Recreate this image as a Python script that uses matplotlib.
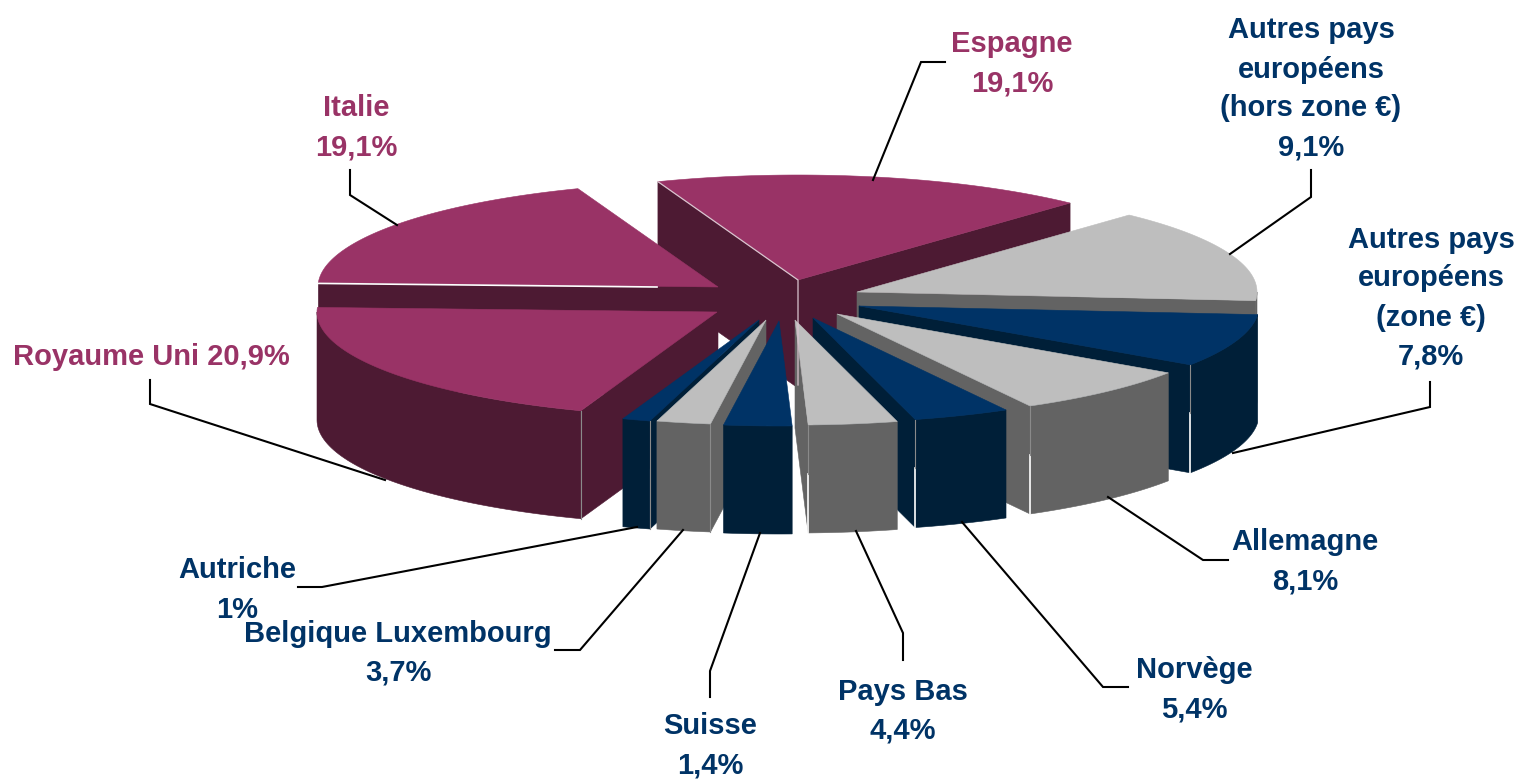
import numpy as np
import matplotlib
matplotlib.use("Agg")
import matplotlib.pyplot as plt
from matplotlib.patches import Polygon

# clockwise from Espagne
names = ["Espagne", "Autres pays\neuropéens\n(hors zone €)", "Autres pays\neuropéens\n(zone €)",
         "Allemagne", "Norvège", "Pays Bas", "Suisse", "Belgique Luxembourg", "Autriche",
         "Royaume Uni", "Italie"]
values = [19.1, 9.1, 7.8, 8.1, 5.4, 4.4, 1.4, 3.7, 1, 20.9, 19.1]
# the slices as drawn do not follow the printed labels exactly, so these are read off the shapes
drawn_shares = [17.6, 14.4, 8.16, 7.52, 3.9, 3.59, 2.74, 2.18, 1.13, 20.17, 18.61]
groups = ["plum", "grey", "navy", "grey", "navy", "grey", "navy", "grey", "navy", "plum", "plum"]

start_angle = -20.5
top_colors = {"plum": "#993366", "grey": "#BEBEBE", "navy": "#003366"}
side_colors = {"plum": "#4D1A33", "grey": "#636363", "navy": "#001F38"}
text_colors = {0: "#993366", 9: "#993366", 10: "#993366"}

# layout in image pixels
apex_x = [798, 857, 859, 837, 813, 795, 779, 766, 759, 717, 718]
apex_y = [280, 292, 306, 314, 318, 320, 321, 320, 320, 312, 287]
rx, ry, depth = 400, 105, 108
draw_order = [0, 10, 1, 9, 2, 3, 4, 5, 8, 7, 6]

label_x = [1012, 1311, 1431, 1305, 1194, 903, 710, 398, 237, 151, 356]
label_y = [64, 89, 298, 562, 690, 711, 746, 653, 590, 357, 128]
leaders = [
    [(945, 62), (921, 62), (873, 180)],
    [(1311, 170), (1311, 197), (1230, 254)],
    [(1430, 382), (1430, 407), (1233, 453)],
    [(1228, 560), (1203, 560), (1108, 497)],
    [(1128, 687), (1103, 687), (962, 522)],
    [(903, 660), (903, 633), (856, 531)],
    [(710, 697), (710, 671), (760, 533)],
    [(555, 650), (580, 650), (683, 530)],
    [(298, 587), (322, 587), (637, 527)],
    [(150, 380), (150, 404), (385, 480)],
    [(350, 170), (350, 195), (397, 225)],
]

plt.rcParams["font.family"] = ["Liberation Sans", "DejaVu Sans"]

fig = plt.figure(figsize=(15.15, 7.8), dpi=100)
ax = fig.add_axes([0, 0, 1, 1])
ax.set_xlim(0, 1515)
ax.set_ylim(780, 0)
ax.axis("off")


def rim(cx, cy, angles):
    t = np.radians(angles)
    return np.column_stack((cx + rx * np.sin(t), cy - ry * np.cos(t)))


def add_face(points, color):
    ax.add_patch(Polygon(points, closed=True, facecolor=color, edgecolor=color, linewidth=0.4))


edges = start_angle + np.cumsum([0] + drawn_shares) * 3.6

for i in draw_order:
    cx, cy = apex_x[i], apex_y[i]
    a0, a1 = edges[i], edges[i + 1]
    top = top_colors[groups[i]]
    side = side_colors[groups[i]]
    drop = np.array([0, depth])
    apex = np.array([[cx, cy]])

    # cut faces, only when they turn towards the viewer
    for ang, visible in ((a0, np.sin(np.radians(a0)) < 0), (a1, np.sin(np.radians(a1)) > 0)):
        if visible:
            p = rim(cx, cy, [ang])
            add_face(np.vstack((apex, p, p + drop, apex + drop)), side)

    # outer wall (front half of the ellipse)
    lo, hi = max(a0, 90), min(a1, 270)
    if hi > lo:
        arc = rim(cx, cy, np.linspace(lo, hi, 60))
        add_face(np.vstack((arc, (arc + drop)[::-1])), side)

    arc = rim(cx, cy, np.linspace(a0, a1, 80))
    add_face(np.vstack((apex, arc)), top)

    # thin light seam between wall and cut face
    if hi > lo and 100 < a1 < 180:
        p = rim(cx, cy, [a1])[0]
        ax.plot([p[0], p[0]], [p[1] + depth * 0.45, p[1] + depth], color="white", lw=1.2)
        ax.plot([p[0], p[0]], [p[1], p[1] + depth * 0.45], color="#8A8A8A", lw=0.8)
    if 180 < a0 < 205:
        p = rim(cx, cy, [a0])[0]
        ax.plot([p[0], p[0]], [p[1], p[1] + depth], color="#8A8A8A", lw=0.8)

# light edges on the plum slices
p = rim(apex_x[0], apex_y[0], [edges[0]])[0]
ax.plot([p[0], apex_x[0], apex_x[0]], [p[1], apex_y[0], apex_y[0] + 105], color="#D8C4CE", lw=0.9)
p = rim(apex_x[10], apex_y[10], [edges[10]])[0]
ax.plot([p[0], 657], [p[1] + 1, 287], color="white", lw=1.2)

for i, name in enumerate(names):
    value = f"{values[i]:g}".replace(".", ",") + "%"
    sep = " " if name == "Royaume Uni" else "\n"
    ax.text(label_x[i], label_y[i], name + sep + value, color=text_colors.get(i, "#003366"),
            fontsize=21, fontweight="bold", ha="center", va="center", linespacing=1.5)
    xs, ys = zip(*leaders[i])
    ax.plot(xs, ys, color="black", lw=1.5, solid_joinstyle="miter")

fig.savefig("out.png", dpi=100)
